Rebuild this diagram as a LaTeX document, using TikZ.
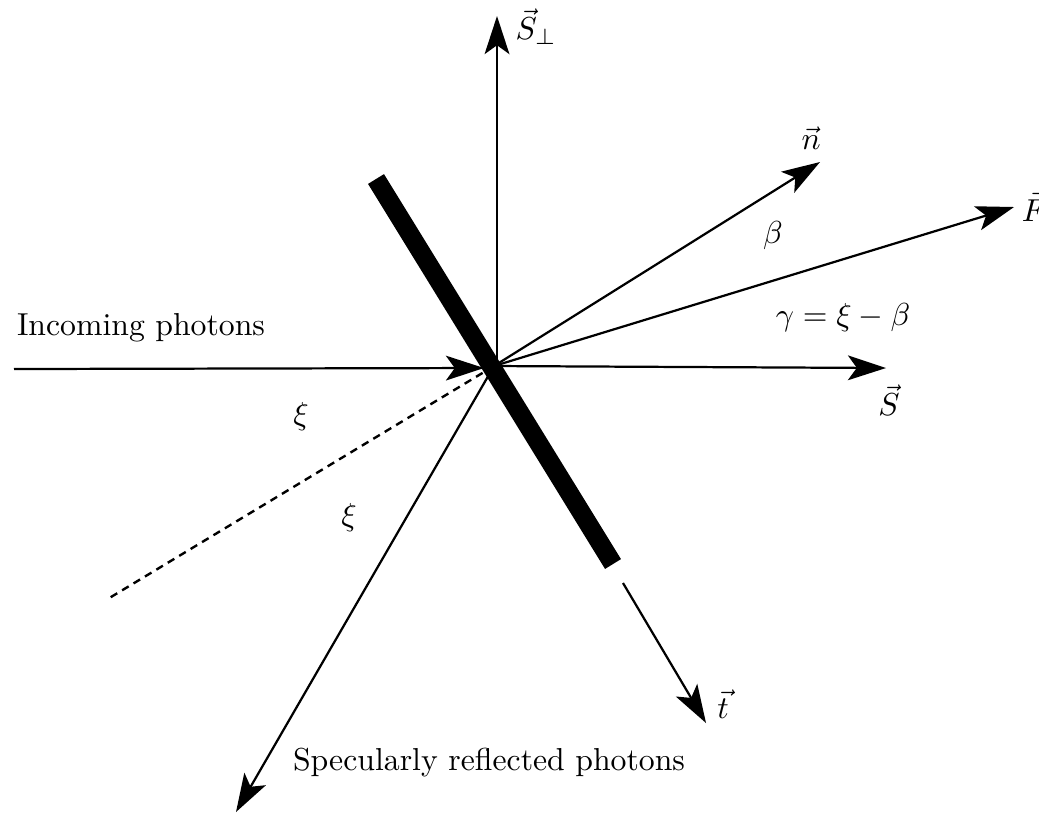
\documentclass[tikz,border=0pt]{standalone}
\usetikzlibrary{arrows.meta}
\begin{document}
\begin{tikzpicture}[x=0.315pt,y=-0.315pt,
  vec/.style={line width=0.7pt,-{Stealth[length=12pt,width=7.8pt,inset=2.8pt]}},
  lbl/.style={inner sep=1pt}]
\useasboundingbox (0,0) rectangle (1039,812);
\coordinate (O) at (494,366);
\coordinate (Ov) at (497,366);
\coordinate (inS) at (14,369);
\coordinate (inE) at (484,368);
\coordinate (Sp) at (497,16);
\coordinate (N) at (820,162);
\coordinate (F) at (1014,207);
\coordinate (S) at (886,368);
\coordinate (tA) at (623,583);
\coordinate (tB) at (706,723);
\coordinate (R) at (236,812);
\coordinate (D) at (106,600);
\coordinate (b1) at (376,179);
\coordinate (b2) at (613,564);
% vectors
\draw[vec] (inS) -- (inE);
\draw[vec] (Ov) -- (Sp);
\draw[vec] (O) -- (N);
\draw[vec] (O) -- (F);
\draw[vec] (O) -- (S);
\draw[vec] (tA) -- (tB);
\draw[vec] (O) -- (R);
\draw[line width=0.75pt,dash pattern=on 2.4pt off 1.8pt] (O) -- (D);
% plate
\draw[line width=5.9pt] (b1) -- (b2);
% labels
\node[lbl] (lSp) at (536,27) {$\vec S_\perp$};
\node[lbl] (lN) at (811,138) {$\vec n$};
\node[lbl,anchor=west] (lF) at (1018,206) {$\vec F$};
\node[lbl] (lS) at (889,400) {$\vec S$};
\node[lbl] (lt) at (723,704) {$\vec t$};
\node[lbl] (lb) at (773,236) {$\beta$};
\node[lbl] (lg) at (843,318) {$\gamma = \xi - \beta$};
\node[lbl] (lx1) at (301,417) {$\xi$};
\node[lbl] (lx2) at (349,518) {$\xi$};
\node[lbl] (lin) at (141,328) {Incoming photons};
\node[lbl] (lref) at (489,763) {Specularly reflected photons};
\end{tikzpicture}
\end{document}
